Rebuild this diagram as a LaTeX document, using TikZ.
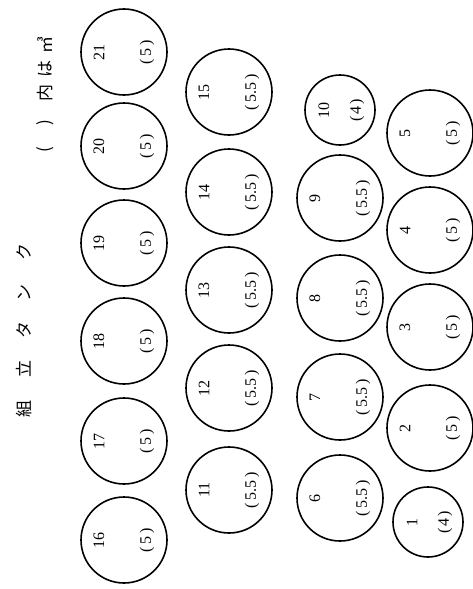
\documentclass[tikz,border=0pt]{standalone}
\usepackage{fontspec}
\newfontfamily\jp{Noto Sans CJK JP}
\newfontfamily\numfont{Liberation Serif}
\tikzset{
  tank/.style={circle, draw, line width=1.6pt, minimum size=86pt, inner sep=0pt},
  smalltank/.style={circle, draw, line width=1.6pt, minimum size=70pt, inner sep=0pt},
  lbl/.style={rotate=90, font=\numfont\fontsize{16}{16}\selectfont, inner sep=0pt},
  jpchar/.style={rotate=90, font=\jp\fontsize{17}{17}\selectfont, inner sep=0pt}
}
\newcommand\bigtank[4]{%
  \node[tank] (t#1) at (#2,#3) {};
  \node[lbl] (n#1) at ([xshift=-25pt]t#1.center) {#1};
  \node[lbl] (v#1) at ([xshift=23pt]t#1.center) {(\kern3pt#4\kern3pt)};
}
\newcommand\smalltankn[4]{%
  \node[smalltank] (t#1) at (#2,#3) {};
  \node[lbl] (n#1) at ([xshift=-16pt]t#1.center) {#1};
  \node[lbl] (v#1) at ([xshift=17pt]t#1.center) {(\kern2pt#4\kern2pt)};
}
\begin{document}
\begin{tikzpicture}[x=1pt,y=-1pt]
\useasboundingbox (0,0) rectangle (473,589);
% title
\node[jpchar] (c1) at (24,409) {組};
\node[jpchar] (c2) at (24,369) {立};
\node[jpchar] (c3) at (24,330) {タ};
\node[jpchar] (c4) at (24,293) {ン};
\node[jpchar] (c5) at (24,252) {ク};
% legend
\node[jpchar] (l1) at (45,150) {(};
\node[jpchar] (l2) at (45,123) {)};
\node[jpchar] (l3) at (45,93) {内};
\node[jpchar] (l4) at (45,69) {は};
\node[jpchar] (l5) at (45,45) {㎥};
% column 1
\bigtank{21}{124}{52}{5}
\bigtank{20}{124}{146}{5}
\bigtank{19}{124}{243}{5}
\bigtank{18}{124}{341}{5}
\bigtank{17}{124}{441}{5}
\bigtank{16}{124}{540}{5}
% column 2
\bigtank{15}{229}{92}{5.5}
\bigtank{14}{229}{192}{5.5}
\bigtank{13}{229}{290}{5.5}
\bigtank{12}{229}{388}{5.5}
\bigtank{11}{229}{490}{5.5}
% column 3
\smalltankn{10}{340}{110}{4}
\bigtank{9}{340}{198}{5.5}
\bigtank{8}{340}{298}{5.5}
\bigtank{7}{340}{397}{5.5}
\bigtank{6}{340}{498}{5.5}
% column 4
\bigtank{5}{430}{133}{5}
\bigtank{4}{430}{230}{5}
\bigtank{3}{430}{327}{5}
\bigtank{2}{430}{428}{5}
\smalltankn{1}{428}{522}{4}
\end{tikzpicture}
\end{document}
